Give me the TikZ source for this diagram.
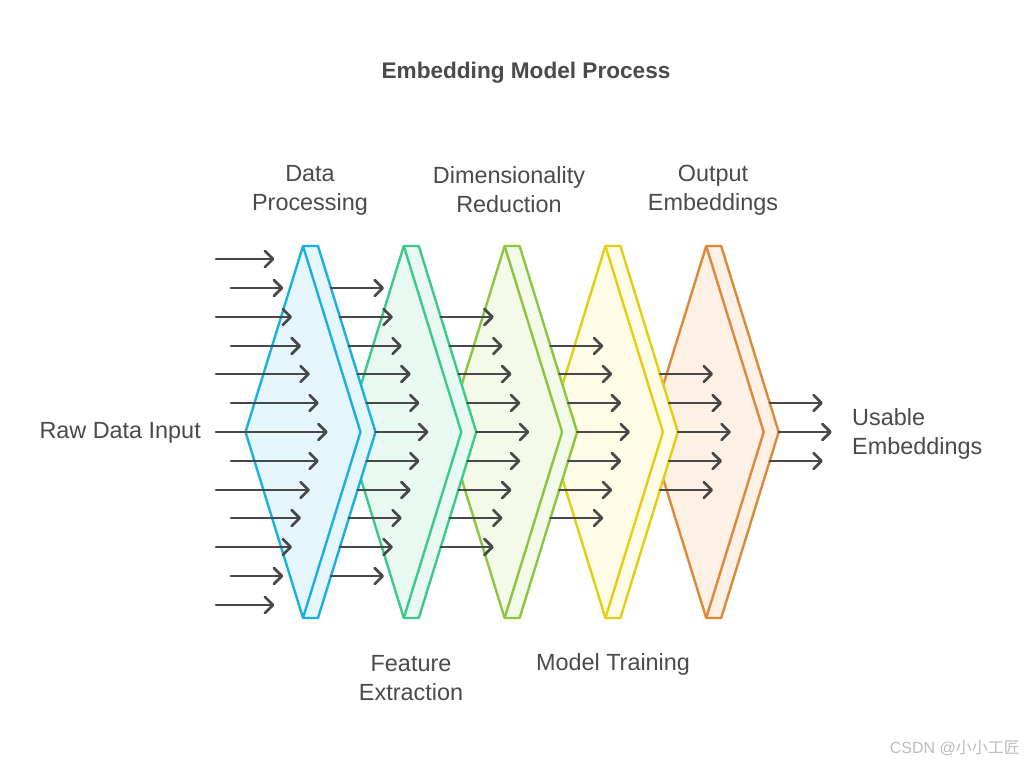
\documentclass[tikz,border=0pt]{standalone}
\usepackage{fontspec}
\setmainfont{Liberation Sans}
\newfontfamily\cjk{Noto Sans CJK SC}
\usetikzlibrary{arrows.meta}
\definecolor{txt}{HTML}{4A4A4A}
\definecolor{arr}{HTML}{484848}
\definecolor{wm}{HTML}{BDBDBD}
\definecolor{cAs}{HTML}{1AB0E2}\definecolor{cAf}{HTML}{E5F7FD}
\definecolor{cBs}{HTML}{3CC98A}\definecolor{cBf}{HTML}{E8F9F1}
\definecolor{cCs}{HTML}{8DC53E}\definecolor{cCf}{HTML}{F3FAE9}
\definecolor{cDs}{HTML}{E3CE12}\definecolor{cDf}{HTML}{FEFCE7}
\definecolor{cEs}{HTML}{E0883A}\definecolor{cEf}{HTML}{FDF0E5}
\tikzset{
  panel/.style={line width=2.4pt, line join=round},
  flow/.style={arr, line width=2.7pt, line cap=round, -{Straight Barb[length=8pt,width=16pt,round]}},
  lbl/.style={txt, font=\fontsize{23.4}{29}\selectfont, align=center, inner sep=0pt},
}
\begin{document}
\begin{tikzpicture}[x=1pt,y=-1pt]
\useasboundingbox (0,0) rectangle (1024,765);
\fill[white] (0,0) rectangle (1024,765);
% panels, drawn from right to left
\foreach \i/\s/\f in {4/cEs/cEf,3/cDs/cDf,2/cCs/cCf,1/cBs/cBf,0/cAs/cAf}{
  \pgfmathsetmacro\t{303+100.8*\i}
  \draw[panel, draw=\s, fill=\f] (\t-57.5,432) -- (\t,246) -- (\t+15,246) -- (\t+72.5,432) -- (\t+15,618) -- (\t,618) -- cycle;
  \draw[panel, draw=\s] (\t,246) -- (\t+57.5,432) -- (\t,618);
}
% arrows
\foreach \c in {0,...,5}{
  \pgfmathtruncatemacro\n{6-\c}
  \foreach \k in {-\n,...,\n}{
    \pgfmathsetmacro\y{round(432+28.77*\k)}
    \pgfmathsetmacro\e{303+100.8*\c+24.7-8.9*abs(\k)}
    \ifnum\c=0
      \pgfmathsetmacro\s{ifthenelse(mod(abs(\k),2)==1,231,216)}
    \else
      \pgfmathsetmacro\s{303+100.8*(\c-1)+72.5-8.9*abs(\k)}
    \fi
    \coordinate (a\c\k) at (\s,\y);
    \coordinate (b\c\k) at (\e,\y);
    \draw[flow] (a\c\k) -- (b\c\k);
  }
}
% labels
\node[lbl, font=\fontsize{22.6}{29}\selectfont\bfseries] (title) at (526,73) {Embedding Model Process};
\node[lbl] (dp) at (310,190) {Data\\Processing};
\node[lbl] (dr) at (509,190) {Dimensionality\\Reduction};
\node[lbl] (oe) at (713,190) {Output\\Embeddings};
\node[lbl] (fe) at (411,678.5) {Feature\\Extraction};
\node[lbl] (mt) at (613,664) {Model Training};
\node[lbl, anchor=east] (raw) at (201,433) {Raw Data Input};
\node[lbl, anchor=west, align=left] (use) at (852,434) {Usable\\Embeddings};
\node[wm, font=\fontsize{16}{18}\selectfont, anchor=east, inner sep=0pt] (mark) at (1020,748) {CSDN @{\cjk 小小工匠}};
\end{tikzpicture}
\end{document}
